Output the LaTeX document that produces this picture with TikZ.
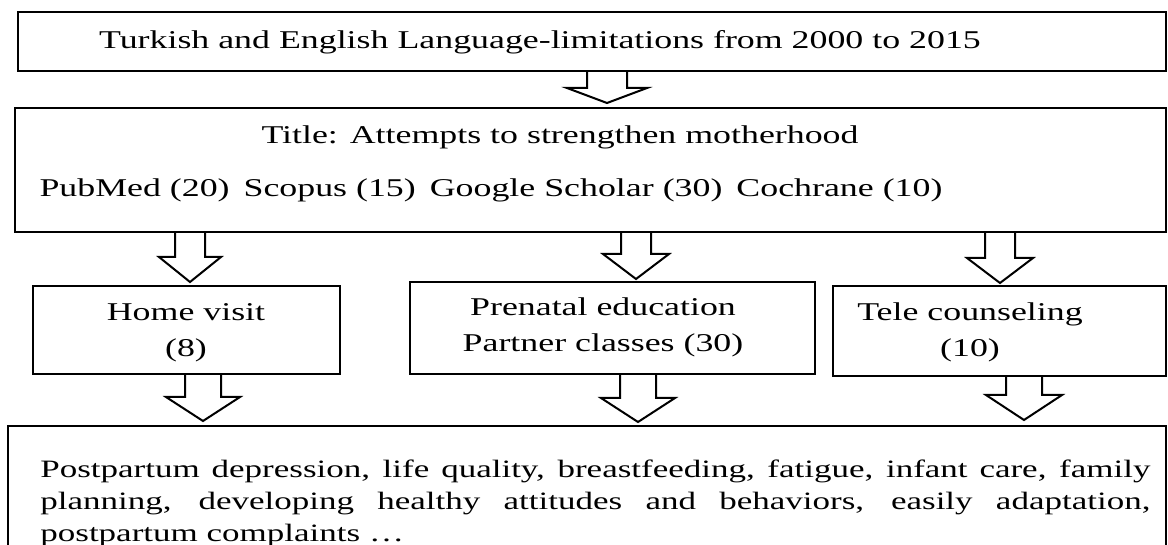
\documentclass[tikz,border=0pt]{standalone}
\usepackage{fontspec}
\setmainfont[FakeStretch=1.4]{Liberation Serif}
\usetikzlibrary{calc}
\tikzstyle{box}=[draw, line width=1pt, inner sep=0pt]
\tikzstyle{txt}=[font=\fontsize{12.8}{18}\selectfont, align=center, inner sep=0pt]
\tikzstyle{fat}=[draw, line width=1pt, line join=miter]
% hollow block arrow: shaft start, tip, half shaft, half head, head length
\newcommand{\fatarrow}[5]{
    \draw[fat] ($(#1)+(-#3,0)$) -- ($(#2)+(-#3,-#5)$) -- ($(#2)+(-#4,-#5)$) -- (#2)
        -- ($(#2)+(#4,-#5)$) -- ($(#2)+(#3,-#5)$) -- ($(#1)+(#3,0)$);
}

\begin{document}
\begin{tikzpicture}[x=0.5pt, y=-0.5pt]
    \useasboundingbox (0, 0) rectangle (1168, 545);

    \node[box, minimum width=574pt, minimum height=29.5pt] (lang) at (592, 41.5) {};
    \node[txt] (langtxt) at (540, 42) {Turkish and English Language-limitations from 2000 to 2015};

    \node[box, minimum width=575.5pt, minimum height=62pt] (search) at (590.5, 170) {};
    \node[txt] (title) at (560, 137) {Title: Attempts to strengthen motherhood};
    \node[txt] (dbs) at (491, 190) {PubMed (20)\hspace{7pt}Scopus (15)\hspace{7pt}Google Scholar (30)\hspace{7pt}Cochrane (10)};

    \node[box, minimum width=153.5pt, minimum height=44pt] (home) at (186.5, 330) {};
    \node[txt] (hometxt) at (186, 333) {Home visit\\(8)};

    \node[box, minimum width=202.5pt, minimum height=46pt] (prenatal) at (612.5, 328) {};
    \node[txt] (prenataltxt) at (603, 327) {Prenatal education\\Partner classes (30)};

    \node[box, minimum width=166.5pt, minimum height=45pt] (tele) at (999.5, 331) {};
    \node[txt] (teletxt) at (970, 332) {Tele counseling\\(10)};

    \node[box, minimum width=579pt, minimum height=87pt] (outcome) at (587, 513) {};
    \node[txt, anchor=north west, align=justify, text width=555pt, font=\fontsize{12.5}{16}\selectfont] (outcometxt) at (40, 459)
        {Postpartum depression, life quality, breastfeeding, fatigue, infant care, family\linebreak
         planning, developing healthy attitudes and behaviors, easily adaptation,\linebreak
         postpartum complaints \ldots};

    % arrow tips
    \coordinate (t1) at (607, 103);
    \coordinate (t2) at (190, 282);
    \coordinate (t3) at (636, 279);
    \coordinate (t4) at (1000, 283);
    \coordinate (t5) at (203, 421);
    \coordinate (t6) at (638, 422);
    \coordinate (t7) at (1024, 420);

    \coordinate (s1) at (t1 |- lang.south);
    \coordinate (s2) at (t2 |- search.south);
    \coordinate (s3) at (t3 |- search.south);
    \coordinate (s4) at (t4 |- search.south);
    \coordinate (s5) at (t5 |- home.south);
    \coordinate (s6) at (t6 |- prenatal.south);
    \coordinate (s7) at (t7 |- tele.south);

    \fatarrow{s1}{t1}{20}{40}{15}
    \fatarrow{s2}{t2}{15}{31}{25}
    \fatarrow{s3}{t3}{15}{33}{25}
    \fatarrow{s4}{t4}{15}{33}{25}
    \fatarrow{s5}{t5}{18}{37}{24}
    \fatarrow{s6}{t6}{18}{37}{24}
    \fatarrow{s7}{t7}{18}{38}{25}
\end{tikzpicture}
\end{document}
